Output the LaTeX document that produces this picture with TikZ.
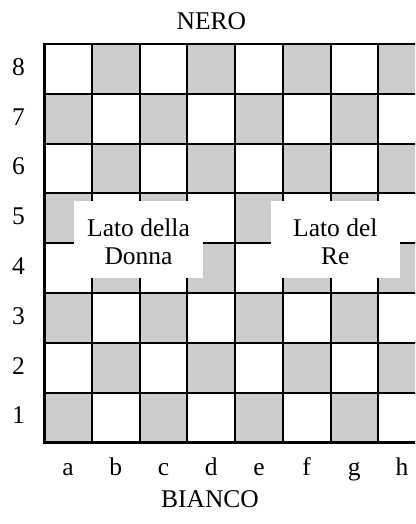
\documentclass[tikz,border=0pt]{standalone}
\usepackage{fontspec}
\setmainfont{Liberation Serif}
\definecolor{sqdark}{HTML}{CCCCCC}
\tikzset{
  gridline/.style={line width=2pt, black},
  borderline/.style={line width=2.7pt, black},
  lbl/.style={font=\fontsize{25.5}{29}\selectfont, inner sep=0pt, anchor=base},
  sidebox/.style={fill=white, inner sep=0pt, minimum width=129pt, minimum height=77pt},
  sidetext/.style={inner sep=0pt, align=center, font=\fontsize{25.5}{28.5}\selectfont}
}
\begin{document}
\begin{tikzpicture}[x=1pt,y=-1pt]
\useasboundingbox (0,0) rectangle (415,524);
\clip (0,0) rectangle (415,524);
\fill[white] (0,0) rectangle (415,524);
% squares
\foreach \c in {1,...,8} {
  \foreach \r in {1,...,8} {
    \pgfmathsetmacro\xa{44.3+(\c-1)*47.7}
    \pgfmathsetmacro\ya{44+(8-\r)*49.8}
    \pgfmathtruncatemacro\pty{mod(\c+\r,2)}
    \ifnum\pty=0 \fill[sqdark] (\xa,\ya) rectangle ++(47.7,49.8); \fi
  }
}
% grid
\foreach \i in {1,...,7} {
  \draw[gridline] ({44.3+\i*47.7},44) -- ({44.3+\i*47.7},442.4);
  \draw[gridline] (44.3,{44+\i*49.8}) -- (425.9,{44+\i*49.8});
}
\draw[borderline] (44.3,44) rectangle (425.9,442.4);
% rank labels
\foreach \r in {1,...,8} {
  \node[lbl] (rank\r) at (18.5,{44+(8-\r)*49.8+24.9+6.3}) {\r};
}
% file labels
\foreach \f [count=\c] in {a,b,c,d,e,f,g,h} {
  \node[lbl] (file\c) at ({44.3+(\c-0.5)*47.7},475) {\f};
}
\node[lbl] (nero) at (211.3,30) {NERO};
\node[lbl] (bianco) at (210,507) {BIANCO};
% side boxes
\node[sidebox] (donna) at (138.5,239.5) {};
\node[sidetext] (donnatext) at (donna.center) [yshift=-2.5pt] {Lato della\\Donna};
\node[sidebox] (re) at (335.3,239.5) {};
\node[sidetext] (retext) at (re.center) [yshift=-2.5pt] {Lato del\\Re};
\end{tikzpicture}
\end{document}
